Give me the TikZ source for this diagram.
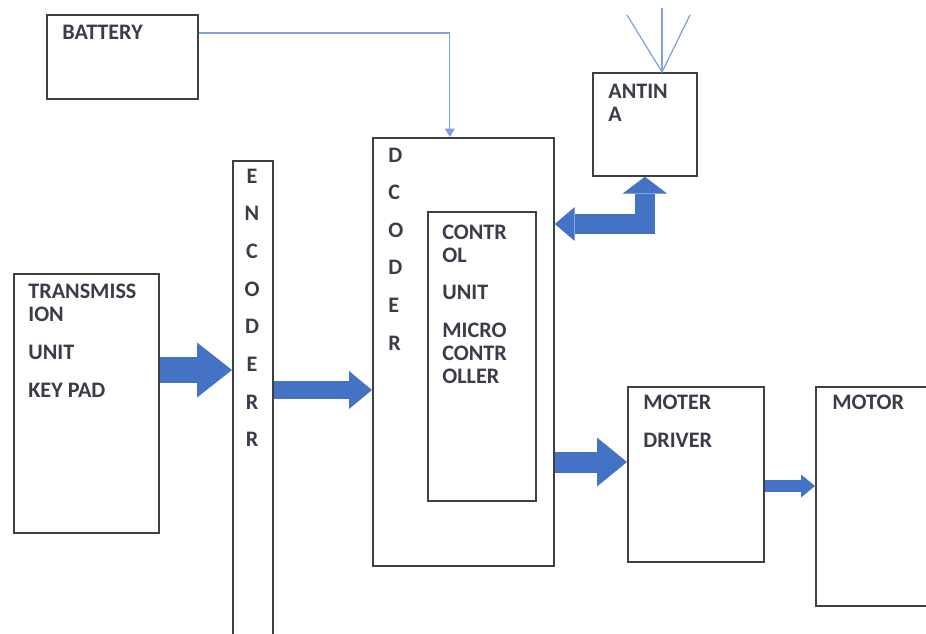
\documentclass[tikz,border=0pt]{standalone}
\usepackage{fontspec}
\setmainfont{Carlito}
\usetikzlibrary{arrows.meta}
\definecolor{blockblue}{HTML}{4472C4}
\definecolor{wireblue}{HTML}{7F9FE0}
\definecolor{edgegray}{HTML}{404040}
\definecolor{txtgray}{HTML}{3B3B4A}

\tikzset{
  box/.style={draw=edgegray, line width=1pt, anchor=north west, inner sep=0pt},
  txt/.style={anchor=base west, inner sep=0pt, text=txtgray, align=left,
    font=\bfseries\fontsize{12.6}{13}\selectfont},
  wire/.style={draw=wireblue, line width=0.7pt},
  fat/.style={draw=blockblue, line join=miter}
}

\begin{document}
\begin{tikzpicture}[x=0.02cm, y=-0.02cm]
		\path[use as bounding box, clip] (0,0) rectangle (926,633);
		% boxes
		\node[box, minimum width=3.02cm, minimum height=1.68cm] (battery) at (46,14) {};
		\node[box, minimum width=2.9cm, minimum height=5.18cm] (trans) at (13,273) {};
		\node[box, minimum width=0.8cm, minimum height=10cm] (encoder) at (232,160) {};
		\node[box, minimum width=3.62cm, minimum height=8.56cm] (decoder) at (372,137) {};
		\node[box, minimum width=2.16cm, minimum height=5.78cm] (control) at (427,211) {};
		\node[box, minimum width=2.08cm, minimum height=2.06cm] (antenna) at (592,72) {};
		\node[box, minimum width=2.72cm, minimum height=3.5cm] (driver) at (627,386) {};
		\node[box, minimum width=3cm, minimum height=4.38cm] (motor) at (815,386) {};
		% texts (multi-line ones sit on their last line)
		\node[txt] (batterytxt) at (62,39) {BATTERY};
		\node[txt] (transtxt) at (28,397) {TRANSMISS\\ION\\[8.4pt]UNIT\\[8.4pt]KEY PAD};
		\node[txt] (controltxt) at (442,383) {CONTR\\OL\\[8.4pt]UNIT\\[8.4pt]MICRO\\CONTR\\OLLER};
		\node[txt] (antennatxt) at (608,121) {ANTIN\\A};
		\node[txt] (drivertxt) at (643,447) {MOTER\\[8.4pt]DRIVER};
		\node[txt] (motortxt) at (832,409) {MOTOR};
		\foreach \l [count=\i from 0] in {E,N,C,O,D,E,R,R}
			\node[txt, anchor=base] (enc\i) at (252,183+37.7*\i) {\l};
		\foreach \l [count=\i from 0] in {D,C,O,D,E,R}
			\node[txt] (dec\i) at (388,162+37.6*\i) {\l};
		% antenna mast
		\coordinate (feed) at (662,72);
		\coordinate (mastl) at (627,15);
		\coordinate (mastc) at (662,8);
		\coordinate (mastr) at (690,15);
		\draw[wire] (mastl) -- (feed) -- (mastr);
		\draw[wire] (mastc) -- (feed);
		% connections
		\draw[wire, -{Triangle[length=0.17cm, width=0.2cm]}] (battery.east |- 0,33) -| ([xshift=-0.27cm]decoder.north);
		\draw[fat, line width=0.52cm, -{Triangle[length=0.7cm, width=1.1cm, line width=0pt]}] (trans.east |- 0,370) -- (encoder.west |- 0,370);
		\draw[fat, line width=0.36cm, -{Triangle[length=0.46cm, width=0.76cm, line width=0pt]}] (encoder.east |- 0,390) -- (decoder.west |- 0,390);
		\draw[fat, line width=0.4cm, {Triangle[length=0.4cm, width=0.68cm, line width=0pt]}-{Triangle[length=0.34cm, width=0.9cm, line width=0pt]}] (decoder.east |- 0,224) -| (antenna.south);
		\draw[fat, line width=0.42cm, -{Triangle[length=0.6cm, width=0.98cm, line width=0pt]}] (decoder.east |- 0,462) -- (driver.west |- 0,462);
		\draw[fat, line width=0.24cm, -{Triangle[length=0.28cm, width=0.46cm, line width=0pt]}] (driver.east |- 0,486) -- (motor.west |- 0,486);
	\end{tikzpicture}
\end{document}
